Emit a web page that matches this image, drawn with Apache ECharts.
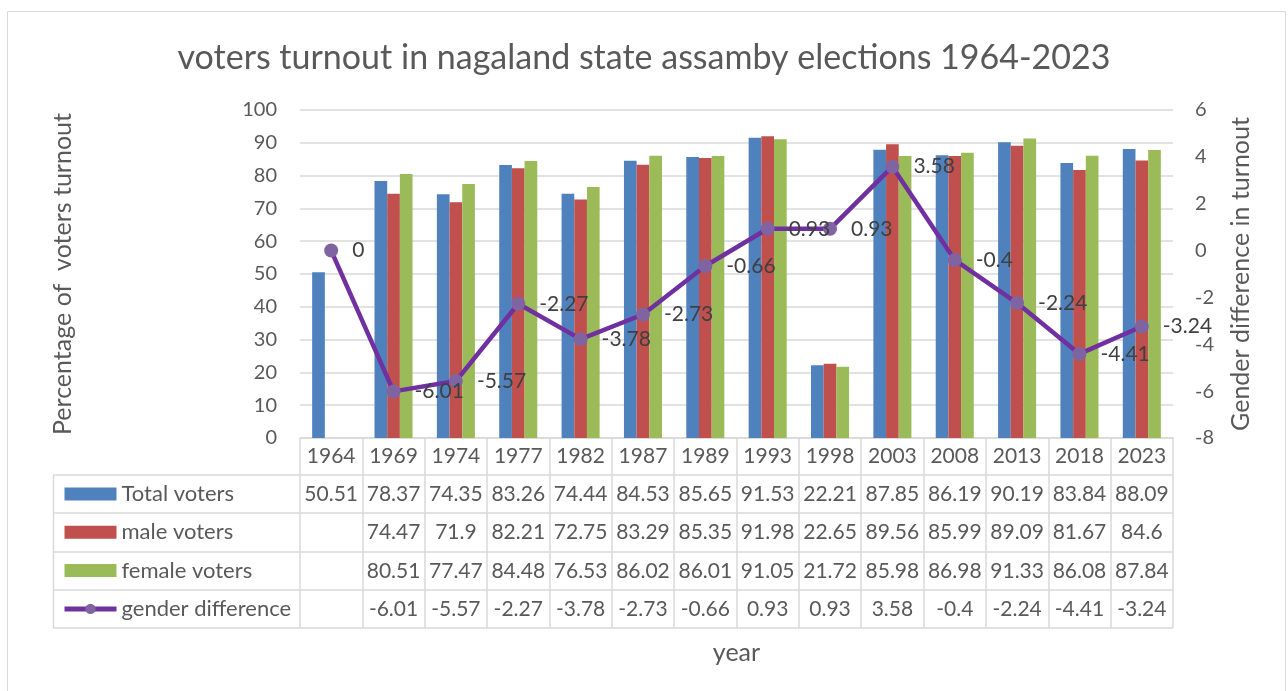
<!DOCTYPE html>
<html>
<head>
<meta charset="utf-8">
<script src="https://cdn.jsdelivr.net/npm/echarts@6/dist/echarts.min.js"></script>
<style>
html,body{margin:0;padding:0;background:#fff;}
#chart{width:1288px;height:691px;}
</style>
</head>
<body>
<div id="chart"></div>
<script>
const categories = ['1964','1969','1974','1977','1982','1987','1989','1993','1998','2003','2008','2013','2018','2023'];
const totalVoters = [50.51,78.37,74.35,83.26,74.44,84.53,85.65,91.53,22.21,87.85,86.19,90.19,83.84,88.09];
const maleVoters = [null,74.47,71.9,82.21,72.75,83.29,85.35,91.98,22.65,89.56,85.99,89.09,81.67,84.6];
const femaleVoters = [null,80.51,77.47,84.48,76.53,86.02,86.01,91.05,21.72,85.98,86.98,91.33,86.08,87.84];
const genderDifference = [null,-6.01,-5.57,-2.27,-3.78,-2.73,-0.66,0.93,0.93,3.58,-0.4,-2.24,-4.41,-3.24];
const seriesNames = ['Total voters','male voters','female voters','gender difference'];
const leftAxis = {min:0, max:100, interval:10};
const rightAxis = {min:-8, max:6, interval:2};

const FONT = 'Lato, Carlito, "Open Sans", sans-serif';
const TXT = '#595959';
const GRID_C = '#d9d9d9';
const colors = ['#4F81BD','#C0504D','#9BBB59','#7030A0'];

// Excel plots the empty 1964 difference cell as zero on the line
const genderLine = genderDifference.map(v => v === null ? 0 : v);
const fmt = arr => arr.map(v => v === null ? '' : String(v));

const gridTop = 110, gridBottomY = 438, gridLeft = 300, gridRight = 1173;
const rowCenters = [456, 494, 532.5, 571, 609];
const rowLines = [475, 513, 552, 590, 628];
const tableLeft = 53;
const LABEL_LH = 22, LABEL_MARGIN = 8;
const NUM_FS = 21;

function rowAxis(data, center) {
  return {
    type:'category', data:data, position:'bottom', gridIndex:0,
    offset: center - LABEL_LH/2 - LABEL_MARGIN - gridBottomY,
    axisLine:{show:false}, axisTick:{show:false}, splitLine:{show:false},
    axisLabel:{interval:0, margin:LABEL_MARGIN, color:TXT, fontSize:NUM_FS, fontFamily:FONT, lineHeight:LABEL_LH}
  };
}

const chart = echarts.init(document.getElementById('chart'), null, {renderer:'canvas'});

const graphics = [
  {type:'rect', shape:{x:7.5, y:11.5, width:1278, height:700}, style:{fill:'none', stroke:GRID_C, lineWidth:1}, silent:true},
  {type:'line', shape:{x1:tableLeft+0.5, y1:rowLines[0], x2:tableLeft+0.5, y2:rowLines[rowLines.length-1]}, style:{stroke:GRID_C, lineWidth:1.5}, silent:true},
  {type:'text', style:{text:'year', fill:TXT, font:'25px ' + FONT, align:'center', verticalAlign:'middle', x:(gridLeft+gridRight)/2, y:653}, silent:true}
];
rowLines.forEach(y => graphics.push({type:'line', shape:{x1:tableLeft, y1:y, x2:gridRight, y2:y}, style:{stroke:GRID_C, lineWidth:1.5}, silent:true}));

const option = {
  backgroundColor:'#fff',
  animation:false,
  color:colors,
  title:{
    text:'voters turnout in nagaland state assamby elections 1964-2023',
    left:'center', top:36,
    textStyle:{fontFamily:FONT, fontSize:34, fontWeight:'normal', color:TXT}
  },
  legend:{
    orient:'vertical', left:62, top:rowCenters[1]-LABEL_LH/2, padding:0,
    itemWidth:52, itemHeight:13, itemGap:38.3-LABEL_LH,
    data:seriesNames.map((n,i)=> i<3 ? {name:n, icon:'rect'} : {name:n, lineStyle:{width:5, color:'#7030A0'}, itemStyle:{color:'#8064A2'}}),
    textStyle:{fontFamily:FONT, fontSize:22, color:TXT, lineHeight:LABEL_LH},
    selectedMode:false
  },
  grid:{left:gridLeft, right:1288-gridRight, top:gridTop, bottom:691-gridBottomY, containLabel:false},
  xAxis:[
    {
      type:'category', data:categories, position:'bottom', gridIndex:0,
      axisLine:{show:true, lineStyle:{color:GRID_C, width:1.5}},
      axisTick:{show:true, length:rowLines[rowLines.length-1]-gridBottomY, lineStyle:{color:GRID_C, width:1.5}},
      axisLabel:{interval:0, margin:rowCenters[0]-LABEL_LH/2-gridBottomY, color:TXT, fontSize:NUM_FS, fontFamily:FONT, lineHeight:LABEL_LH},
      splitLine:{show:false}
    },
    rowAxis(fmt(totalVoters), rowCenters[1]),
    rowAxis(fmt(maleVoters), rowCenters[2]),
    rowAxis(fmt(femaleVoters), rowCenters[3]),
    rowAxis(fmt(genderDifference), rowCenters[4])
  ],
  yAxis:[
    {
      type:'value', min:leftAxis.min, max:leftAxis.max, interval:leftAxis.interval, position:'left',
      name:'Percentage of  voters turnout', nameLocation:'middle', nameRotate:90, nameGap:225,
      nameTextStyle:{fontFamily:FONT, fontSize:25, color:TXT},
      axisLine:{show:false}, axisTick:{show:false},
      axisLabel:{color:TXT, fontSize:20, fontFamily:FONT, margin:23},
      splitLine:{show:true, lineStyle:{color:GRID_C, width:1.5}}
    },
    {
      type:'value', min:rightAxis.min, max:rightAxis.max, interval:rightAxis.interval, position:'right',
      name:'Gender difference in turnout', nameLocation:'middle', nameRotate:90, nameGap:55,
      nameTextStyle:{fontFamily:FONT, fontSize:25, color:TXT},
      axisLine:{show:false}, axisTick:{show:false},
      axisLabel:{color:TXT, fontSize:20, fontFamily:FONT, margin:22},
      splitLine:{show:false}
    }
  ],
  series:[
    {name:seriesNames[0], type:'bar', data:totalVoters, barGap:'0%', barCategoryGap:'39%', itemStyle:{color:colors[0]}},
    {name:seriesNames[1], type:'bar', data:maleVoters, barGap:'0%', barCategoryGap:'39%', itemStyle:{color:colors[1]}},
    {name:seriesNames[2], type:'bar', data:femaleVoters, barGap:'0%', barCategoryGap:'39%', itemStyle:{color:colors[2]}},
    {
      name:seriesNames[3], type:'line', yAxisIndex:1, data:genderLine, z:5,
      symbol:'circle', symbolSize:14,
      itemStyle:{color:'#8064A2'},
      lineStyle:{color:'#7030A0', width:4.5},
      label:{show:true, position:'right', distance:14, color:'#404040', fontSize:NUM_FS, fontFamily:FONT}
    }
  ],
  graphic:graphics
};
chart.setOption(option);
</script>
</body>
</html>
